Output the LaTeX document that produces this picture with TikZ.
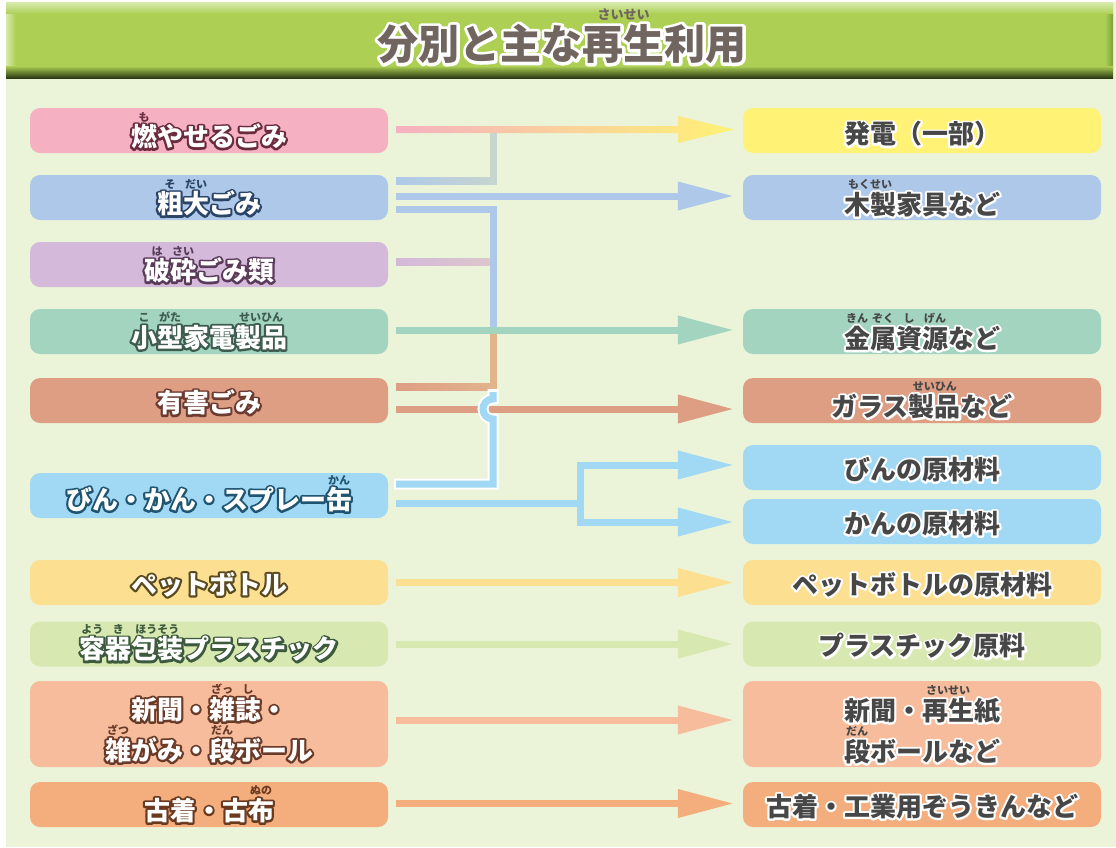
\documentclass[tikz,border=0pt]{standalone}
\usepackage{fontspec}
\newfontfamily\jp{Noto Sans CJK JP}
\usetikzlibrary{arrows.meta}
\definecolor{bg}{HTML}{EBF4D9}
\definecolor{tbgreen}{HTML}{ACCF54}
\definecolor{tblight}{HTML}{D8EAB0}
\definecolor{tbdark}{HTML}{2C3A14}
\definecolor{tbedge}{HTML}{7E9E3A}
\definecolor{titletxt}{HTML}{716560}
\definecolor{pinkc}{HTML}{F5B1C1}
\definecolor{bluec}{HTML}{AEC8EA}
\definecolor{purplec}{HTML}{D4B9DB}
\definecolor{greenc}{HTML}{A3D4C0}
\definecolor{orangec}{HTML}{DE9E84}
\definecolor{skyc}{HTML}{A1D8F4}
\definecolor{petc}{HTML}{FCDF91}
\definecolor{lgreenc}{HTML}{D7E8B0}
\definecolor{salmonc}{HTML}{F7BC9C}
\definecolor{peachc}{HTML}{F4AD7C}
\definecolor{yelc}{HTML}{FFF275}
\definecolor{grayc}{HTML}{C8D5CE}
\definecolor{mauvec}{HTML}{DCC6CC}
\definecolor{tanc}{HTML}{E2B48C}
\definecolor{rtxt}{HTML}{474747}
\definecolor{ol1}{HTML}{6B2B3E}
\definecolor{ol2}{HTML}{2A4468}
\definecolor{ol3}{HTML}{5A3C5A}
\definecolor{ol4}{HTML}{3E5C50}
\definecolor{ol5}{HTML}{6B3A30}
\definecolor{ol6}{HTML}{1F5570}
\definecolor{ol7}{HTML}{5A4A20}
\definecolor{ol8}{HTML}{3E5A3E}
\definecolor{ol9}{HTML}{6A3A28}
\definecolor{ol10}{HTML}{6A3A20}

\newsavebox\rbbox
\newif\ifrubyon
\newcommand\rubycol{black}
\newcommand\rubysize{11}
\newcommand\rb[2]{%
  \sbox\rbbox{#1}%
  \ifrubyon
    \rlap{\raisebox{0.98em}[0pt][0pt]{\makebox[\wd\rbbox][c]{\color{\rubycol}\fontsize{\rubysize}{\rubysize}\selectfont #2}}}%
  \fi
  \usebox\rbbox}
% outline width (PDF stroke width, twice the visible halo)
\newcommand\olwidth{4.2}
\newcommand\olt[4]{%
  \leavevmode
  \rlap{\rubyonfalse\color{#1}\special{pdf:literal direct /Span <</ActualText ()>> BDC q 1 j 1 J \olwidth\space w 1 Tr}#4\special{pdf:literal direct Q EMC}}%
  {\rubyontrue\def\rubycol{#3}\color{#2}#4}}

\tikzset{
  box/.style={rounded corners=10pt, minimum width=358pt, minimum height=45pt, inner sep=0pt, draw=none},
  txt/.style={inner sep=0pt, font=\jp\bfseries\fontsize{26}{41}\selectfont, align=center},
  bar/.style={line width=7pt, line join=miter},
  conn/.style={line width=7pt, -{Triangle[length=56pt,width=27pt]}},
}

\begin{document}
\begin{tikzpicture}[x=1pt,y=-1pt]
\useasboundingbox (0,0) rectangle (1116,847);
\fill[white] (0,0) rectangle (1116,847);
\fill[bg] (6,2) rectangle (1116,847);
% title bar
\fill[tbgreen] (6,2) rectangle (1113,78);
\shade[top color=tblight, bottom color=tbgreen] (6,2) rectangle (1113,14);
\shade[left color=tblight, right color=tbgreen] (6,14) rectangle (16,68);
\shade[left color=tbgreen, right color=tbedge] (1105,14) rectangle (1113,68);
\shade[top color=tbgreen, bottom color=tbdark] (6,66) rectangle (1113,78);
\node[txt, font=\jp\bfseries\fontsize{41}{41}\selectfont] (title) at (562,44)
  {\renewcommand\olwidth{6.2}\renewcommand\rubysize{13}\olt{white}{titletxt}{titletxt}{分別と主な\rb{再生}{さいせい}利用}};

% left boxes
\node[box, fill=pinkc]   (l1)  at (209,130.5) {};
\node[box, fill=bluec]   (l2)  at (209,197.5) {};
\node[box, fill=purplec] (l3)  at (209,264.5) {};
\node[box, fill=greenc]  (l4)  at (209,331.5) {};
\node[box, fill=orangec] (l5)  at (209,400.5) {};
\node[box, fill=skyc]    (l6)  at (209,495.5) {};
\node[box, fill=petc]    (l7)  at (209,582.5) {};
\node[box, fill=lgreenc] (l8)  at (209,644) {};
\node[box, fill=salmonc, minimum height=86pt] (l9) at (209,724) {};
\node[box, fill=peachc]  (l10) at (209,804.5) {};

% right boxes
\node[box, fill=yelc]    (r1)  at (922,130.5) {};
\node[box, fill=bluec]   (r2)  at (922,197.5) {};
\node[box, fill=greenc]  (r3)  at (922,331.5) {};
\node[box, fill=orangec] (r4)  at (922,400.5) {};
\node[box, fill=skyc]    (r5)  at (922,467.5) {};
\node[box, fill=skyc]    (r6)  at (922,521.5) {};
\node[box, fill=petc]    (r7)  at (922,582.5) {};
\node[box, fill=lgreenc] (r8)  at (922,644) {};
\node[box, fill=salmonc, minimum height=86pt] (r9) at (922,724) {};
\node[box, fill=peachc]  (r10) at (922,804.5) {};

% left texts
\node[txt] (l1t) at ([yshift=-6pt]l1.center) {\olt{ol1}{white}{ol1}{\rb{燃}{も}やせるごみ}};
\node[txt] (l2t) at ([yshift=-6pt]l2.center) {\olt{ol2}{white}{ol2}{\rb{粗}{そ}\rb{大}{だい}ごみ}};
\node[txt] (l3t) at ([yshift=-6pt]l3.center) {\olt{ol3}{white}{ol3}{\rb{破}{は}\rb{砕}{さい}ごみ類}};
\node[txt] (l4t) at ([yshift=-6pt]l4.center) {\olt{ol4}{white}{ol4}{\rb{小}{こ}\rb{型}{がた}家電\rb{製品}{せいひん}}};
\node[txt] (l5t) at ([yshift=-2pt]l5.center) {\olt{ol5}{white}{ol5}{有害ごみ}};
\node[txt] (l6t) at ([yshift=-4pt]l6.center) {\olt{ol6}{white}{ol6}{びん・かん・スプレー\rb{缶}{かん}}};
\node[txt] (l7t) at ([yshift=-2pt]l7.center) {\olt{ol7}{white}{ol7}{ペットボトル}};
\node[txt] (l8t) at ([yshift=-5pt]l8.center) {\olt{ol8}{white}{ol8}{\rb{容}{よう}\rb{器}{き}\rb{包装}{ほうそう}プラスチック}};
\node[txt] (l9t) at ([yshift=-6pt]l9.center) {\olt{ol9}{white}{ol9}{新聞・\rb{雑}{ざっ}\rb{誌}{し}・}\\\olt{ol9}{white}{ol9}{\rb{雑}{ざつ}がみ・\rb{段}{だん}ボール}};
\node[txt] (l10t) at ([yshift=-6pt]l10.center) {\olt{ol10}{white}{ol10}{古着・古\rb{布}{ぬの}}};

% right texts
\node[txt] (r1t) at ([yshift=-3.5pt]r1.center) {\olt{white}{rtxt}{rtxt}{発電（一部）}};
\node[txt] (r2t) at ([yshift=-7pt]r2.center) {\olt{white}{rtxt}{rtxt}{\rb{木製}{もくせい}家具など}};
\node[txt] (r3t) at ([yshift=-7pt]r3.center) {\olt{white}{rtxt}{rtxt}{\rb{金}{きん}\rb{属}{ぞく}\rb{資}{し}\rb{源}{げん}など}};
\node[txt] (r4t) at ([yshift=-6pt]r4.center) {\olt{white}{rtxt}{rtxt}{ガラス\rb{製品}{せいひん}など}};
\node[txt] (r5t) at ([yshift=-2pt]r5.center) {\olt{white}{rtxt}{rtxt}{びんの原材料}};
\node[txt] (r6t) at ([yshift=-2pt]r6.center) {\olt{white}{rtxt}{rtxt}{かんの原材料}};
\node[txt] (r7t) at ([yshift=-2pt]r7.center) {\olt{white}{rtxt}{rtxt}{ペットボトルの原材料}};
\node[txt] (r8t) at ([yshift=-2pt]r8.center) {\olt{white}{rtxt}{rtxt}{プラスチック原料}};
\node[txt] (r9t) at ([yshift=-7pt]r9.center) {\olt{white}{rtxt}{rtxt}{新聞・\rb{再生}{さいせい}紙}\\\olt{white}{rtxt}{rtxt}{\rb{段}{だん}ボールなど}};
\node[txt] (r10t) at ([yshift=-2pt]r10.center) {\olt{white}{rtxt}{rtxt}{古着・工業用ぞうきんなど}};

% connectors
% row 1 (gradient arrow)
\shade[left color=pinkc, right color=yelc]
  (396,126) -- (678,126) -- (678,116) -- (734,129.5) -- (678,143) -- (678,133) -- (396,133) -- cycle;
% sodai top branch to power generation
\fill[grayc] (489.5,133) rectangle (496.5,184.5);
\shade[left color=bluec, right color=grayc] (396,177.5) rectangle (496.5,184.5);
% sodai middle arrow
\draw[conn, bluec] ([xshift=8pt,yshift=1.5pt]l2.east) -- ([xshift=-9pt,yshift=1.5pt]r2.west);
% sodai bottom to metal
\coordinate (bus1) at (493,209);
\coordinate (bus2) at (493,330);
\draw[bar, bluec] ([xshift=8pt,yshift=-11.5pt]l2.east) -- (bus1) -- (bus2);
% hasai
\shade[left color=purplec, right color=mauvec] (396,258.5) rectangle (489.5,265.5);
% kogata kaden arrow
\draw[conn, greenc] ([xshift=8pt,yshift=1.5pt]l4.east) -- ([xshift=-9pt,yshift=1.5pt]r3.west);
% yuugai top -> up to metal
\fill[tanc] (489.5,333.5) rectangle (496.5,390.5);
\shade[left color=orangec, right color=tanc] (396,383.5) rectangle (496.5,390.5);
% yuugai bottom arrow to glass
\draw[conn, orangec] ([xshift=8pt,yshift=-8.5pt]l5.east) -- ([xshift=-9pt,yshift=-8.5pt]r4.west);
% bin top line jumping over to glass
\coordinate (hopA) at (493,484);
\draw[white, line width=11pt, line join=miter] ([xshift=6pt,yshift=11.5pt]l6.east) -- (hopA) -- (493,419)
  .. controls (479.7,419) and (479.7,399) .. (493,399) -- (493,389);
\draw[bar, skyc] ([xshift=8pt,yshift=11.5pt]l6.east) -- (hopA) -- (493,419)
  .. controls (479.7,419) and (479.7,399) .. (493,399) -- (493,392);
% bin bottom to split
\coordinate (sp0) at (580,503);
\coordinate (sp1) at (580,465);
\coordinate (sp2) at (580,522);
\draw[bar, skyc] ([xshift=8pt,yshift=-7.5pt]l6.east) -- (sp0);
\draw[bar, skyc, line cap=rect] (sp1) -- (sp2);
\draw[conn, skyc] (sp1) -- ([xshift=-9pt,yshift=2.5pt]r5.west);
\draw[conn, skyc] (sp2) -- ([xshift=-9pt,yshift=-0.5pt]r6.west);
% remaining rows
\draw[conn, petc] ([xshift=8pt]l7.east) -- ([xshift=-9pt]r7.west);
\draw[conn, lgreenc] ([xshift=8pt]l8.east) -- ([xshift=-9pt]r8.west);
\draw[conn, salmonc] ([xshift=8pt,yshift=4pt]l9.east) -- ([xshift=-9pt,yshift=4pt]r9.west);
\draw[conn, peachc] ([xshift=8pt,yshift=1pt]l10.east) -- ([xshift=-9pt,yshift=1pt]r10.west);
\end{tikzpicture}
\end{document}
